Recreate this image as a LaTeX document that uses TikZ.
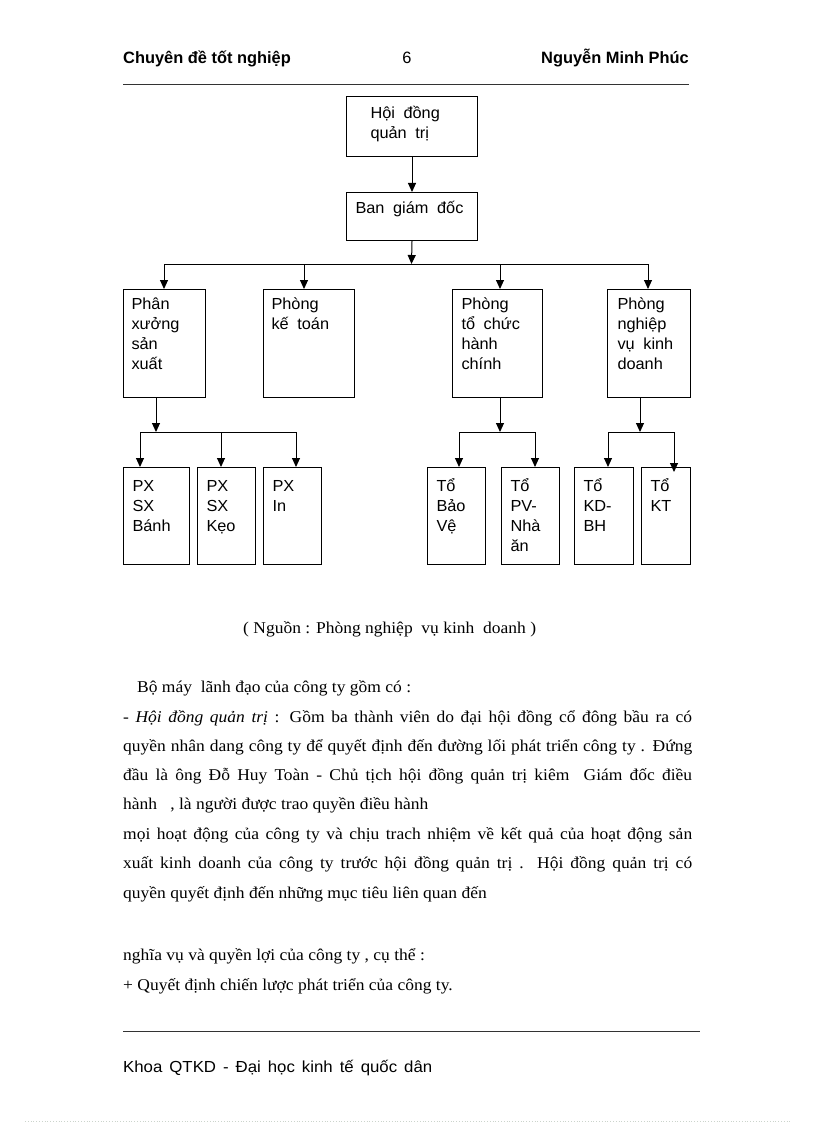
\documentclass[tikz,border=0pt]{standalone}
\usepackage{fontspec}
\setmainfont[FakeStretch=1.06]{Liberation Serif}
\newfontfamily\arialf[WordSpace=1.9,FakeStretch=1.02]{Liberation Sans}
\newfontfamily\arialh{Liberation Sans}
\newfontfamily\arialft[WordSpace=1.5,FakeStretch=1.05]{Liberation Sans}
\usetikzlibrary{arrows.meta}
\newcommand\orgtext[5]{\parbox[c][#2pt][t]{#1pt}{\raggedright\leftskip=#3pt\relax\rule{0pt}{#4pt}#5\par}}
\begin{document}
\begin{tikzpicture}[x=1pt,y=-1pt,
  orgbox/.style={draw, line width=1pt, inner sep=0pt, anchor=north west,
    font=\arialf\fontsize{16}{20}\selectfont},
  arr/.style={-{Triangle[length=9pt,width=8pt]}, line width=1pt},
  link/.style={line width=1pt},
  head/.style={inner sep=0pt, font=\arialh\bfseries\fontsize{16.4}{20}\selectfont},
  bodyline/.style={anchor=base west, inner sep=0pt, font=\fontsize{16.5}{20}\selectfont},
  rulel/.style={line width=0.9pt, black!80}]
\useasboundingbox (0,0) rectangle (816,1123);

% header
\node[head, anchor=base west] (hl) at (123,64) {Chuyên đề tốt nghiệp};
\node[head, anchor=base, font=\arialh\fontsize{16.4}{20}\selectfont] (hn) at (407,64) {6};
\node[head, anchor=base east] (hr) at (689,64) {Nguyễn Minh Phúc};
\draw[rulel] (123,84) -- (689,84);

% level 1
\node[orgbox] (hdqt) at (346,96) {\orgtext{131}{60}{24}{22}{Hội đồng\\quản trị}};
\node[orgbox] (bgd) at (346,192) {\orgtext{131}{48}{9}{21}{Ban giám đốc}};
\draw[arr] (hdqt) -- (bgd);

% level 2
\node[orgbox] (pxsx) at (123,289) {\orgtext{82}{108}{8}{20}{Phân\\xưởng\\sản\\xuất}};
\node[orgbox] (pkt) at (263,289) {\orgtext{91}{108}{8}{20}{Phòng\\kế toán}};
\node[orgbox] (ptc) at (452,289) {\orgtext{90}{108}{9}{20}{Phòng\\tổ chức\\hành\\chính}};
\node[orgbox] (pnv) at (607,289) {\orgtext{83}{108}{10}{20}{Phòng\\nghiệp\\vụ kinh\\doanh}};

\coordinate (b1) at (411.5,264);
\coordinate (b1a) at (164,264);
\coordinate (b1b) at (304,264);
\coordinate (b1c) at (500,264);
\coordinate (b1d) at (648,264);
\draw[arr] (bgd.south) -- (b1);
\draw[link] (b1a) -- (b1d);
\draw[arr] (b1a) -- (b1a |- pxsx.north);
\draw[arr] (b1b) -- (b1b |- pkt.north);
\draw[arr] (b1c) -- (b1c |- ptc.north);
\draw[arr] (b1d) -- (b1d |- pnv.north);

% level 3
\node[orgbox] (pxb) at (123,467) {\orgtext{66}{97}{9}{24}{PX\\SX\\Bánh}};
\node[orgbox] (pxk) at (197,467) {\orgtext{58}{97}{9}{24}{PX\\SX\\Kẹo}};
\node[orgbox] (pxi) at (263,467) {\orgtext{58}{97}{9}{24}{PX\\In}};
\node[orgbox] (tbv) at (427,467) {\orgtext{58}{97}{9}{24}{Tổ\\Bảo\\Vệ}};
\node[orgbox] (tpv) at (501,467) {\orgtext{58}{97}{9}{24}{Tổ\\PV-\\Nhà\\ăn}};
\node[orgbox] (tkd) at (574,467) {\orgtext{59}{97}{9}{24}{Tổ\\KD-\\BH}};
\node[orgbox] (tkt) at (641,467) {\orgtext{49}{97}{9}{24}{Tổ\\KT}};

\coordinate (c1) at (156,432);
\coordinate (c1a) at (140,432);
\coordinate (c1b) at (221,432);
\coordinate (c1c) at (296,432);
\draw[arr] (c1 |- pxsx.south) -- (c1);
\draw[link] (c1a) -- (c1c);
\draw[arr] (c1a) -- (c1a |- pxb.north);
\draw[arr] (c1b) -- (c1b |- pxk.north);
\draw[arr] (c1c) -- (c1c |- pxi.north);

\coordinate (c2) at (500,432);
\coordinate (c2a) at (459,432);
\coordinate (c2b) at (535,432);
\draw[arr] (c2 |- ptc.south) -- (c2);
\draw[link] (c2a) -- (c2b);
\draw[arr] (c2a) -- (c2a |- tbv.north);
\draw[arr] (c2b) -- (c2b |- tpv.north);

\coordinate (c3) at (640,432);
\coordinate (c3a) at (608,432);
\coordinate (c3b) at (674,432);
\coordinate (tktin) at (674,472);
\draw[arr] (c3 |- pnv.south) -- (c3);
\draw[link] (c3a) -- (c3b);
\draw[arr] (c3a) -- (c3a |- tkd.north);
\draw[arr] (c3b) -- (tktin);

% source
\node[bodyline] (src) at (243,633) {( Nguồn : Phòng nghiệp\ \ vụ kinh\ \ doanh )};

% body text
\node[bodyline] (t1) at (137,692) {Bộ máy\ \ lãnh đạo của công ty gồm có :};
\node[bodyline] (t2) at (123,722) {\makebox[569pt][s]{- \textit{Hội đồng quản trị} : Gồm ba thành viên do đại hội đồng cổ đông bầu ra có}};
\node[bodyline] (t3) at (123,751) {\makebox[569pt][s]{quyền nhân dang công ty để quyết định đến đường lối phát triển công ty . Đứng}};
\node[bodyline] (t4) at (123,780) {\makebox[569pt][s]{đầu là ông Đỗ Huy Toàn - Chủ tịch hội đồng quản trị kiêm\ \ Giám đốc điều}};
\node[bodyline] (t5) at (123,809) {hành\ \ \ , là người được trao quyền điều hành};
\node[bodyline] (t6) at (123,839) {\makebox[569pt][s]{mọi hoạt động của công ty và chịu trach nhiệm về kết quả của hoạt động sản}};
\node[bodyline] (t7) at (123,868) {\makebox[569pt][s]{xuất kinh doanh của công ty trước hội đồng quản trị . Hội đồng quản trị có}};
\node[bodyline] (t8) at (123,898) {quyền quyết định đến những mục tiêu liên quan đến};
\node[bodyline] (t9) at (123,960) {nghĩa vụ và quyền lợi của công ty , cụ thể :};
\node[bodyline] (t10) at (123,990) {+ Quyết định chiến lược phát triển của công ty.};

% footer
\draw[rulel] (123,1031) -- (700,1031);
\node[bodyline, font=\arialft\fontsize{16}{20}\selectfont] (ft) at (123,1072) {Khoa QTKD - Đại học kinh tế quốc dân};
\draw[dotted, line width=0.8pt, green!15!black!20] (25,1121) -- (790,1121);
\end{tikzpicture}
\end{document}
